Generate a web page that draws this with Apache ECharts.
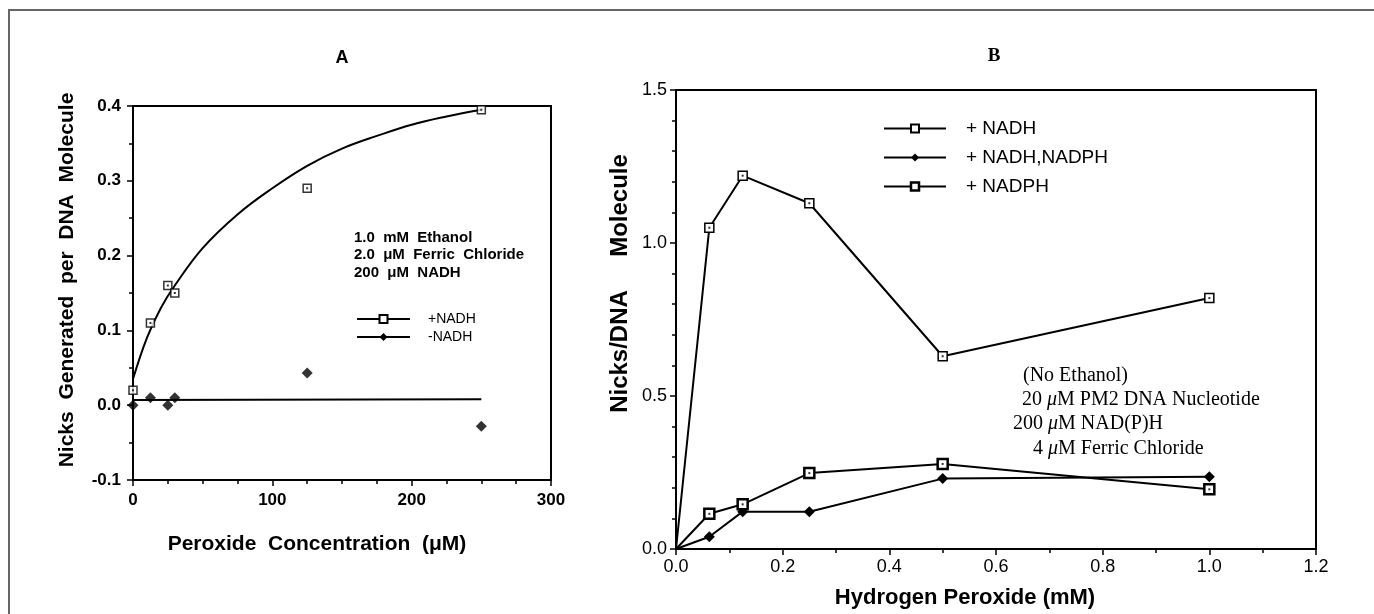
<!DOCTYPE html>
<html>
<head>
<meta charset="utf-8">
<script src="https://cdn.jsdelivr.net/npm/echarts@6/dist/echarts.min.js"></script>
<style>
html, body { margin: 0; padding: 0; background: #fff; }
#chart { width: 1374px; height: 614px; }
</style>
</head>
<body>
<div id="chart"></div>
<script>
// panel A - peroxide concentration (uM)
const aX = [0, 12.5, 25, 30, 125, 250];
const aPlusNADH = [0.02, 0.11, 0.16, 0.15, 0.29, 0.395];
const aMinusNADH = [0.0, 0.01, 0.0, 0.01, 0.043, -0.028];
// fitted curves as drawn in the figure
const aFitX = [0, 10, 20, 30, 50, 75, 100, 125, 150, 175, 200, 225, 250];
const aFitPlus = [0.035, 0.09, 0.13, 0.16, 0.21, 0.255, 0.29, 0.32, 0.343, 0.36, 0.375, 0.386, 0.395];
const aFitMinusX = [0, 250];
const aFitMinus = [0.007, 0.008];
const aXTicks = [0, 100, 200, 300];
const aYTicks = [-0.1, 0.0, 0.1, 0.2, 0.3, 0.4];

// panel B - hydrogen peroxide (mM)
const bX = [0, 0.0625, 0.125, 0.25, 0.5, 1.0];
const bNADH = [0, 1.05, 1.22, 1.13, 0.63, 0.82];
const bBoth = [0, 0.04, 0.122, 0.122, 0.23, 0.236];
const bNADPH = [0, 0.115, 0.146, 0.248, 0.278, 0.195];
const bXTicks = [0, 0.2, 0.4, 0.6, 0.8, 1.0, 1.2];
const bYTicks = [0, 0.5, 1.0, 1.5];

const SANS = 'Liberation Sans, Arial, sans-serif';
const NARROW = 'Liberation Sans Narrow, Liberation Sans, sans-serif';
const SERIF = 'Liberation Serif, Times New Roman, serif';

const chart = echarts.init(document.getElementById('chart'));

const pairs = (xs, ys) => xs.map((x, i) => [x, ys[i]]);
// no marker at the origin in panel B
const pairsB = ys => bX.map((x, i) => i === 0 ? { value: [x, ys[i]], symbol: 'none' } : [x, ys[i]]);
const dotsB = ys => bX.slice(1).map((x, i) => [x, ys[i + 1]]);

function axis(gridIndex, ticks, minorSplit, label, name) {
  return {
    type: 'value',
    gridIndex: gridIndex,
    min: ticks[0],
    max: ticks[ticks.length - 1],
    interval: ticks[1] - ticks[0],
    splitLine: { show: false },
    axisLine: { onZero: false, lineStyle: { color: '#000', width: 2 } },
    axisTick: { length: 6, lineStyle: { color: '#000', width: 1.5 } },
    minorTick: { show: true, splitNumber: minorSplit, length: 4, lineStyle: { color: '#000', width: 1.5 } },
    axisLabel: label,
    nameLocation: 'middle',
    ...name
  };
}

const openSquare = { color: '#fff', borderColor: '#000', borderWidth: 1.5 };
const boldSquare = { color: '#fff', borderColor: '#000', borderWidth: 2.5 };
const black = { color: '#000' };
const line = { color: '#000', width: 2 };

const option = {
  animation: false,
  backgroundColor: '#fff',
  grid: [
    { left: 133, top: 106, width: 418, height: 374, show: true, borderColor: '#000', borderWidth: 2 },
    { left: 676, top: 90, width: 640, height: 465, show: true, borderColor: '#000', borderWidth: 2 }
  ],
  xAxis: [
    axis(0, aXTicks, 4,
      { color: '#000', fontFamily: SANS, fontWeight: 'bold', fontSize: 17, margin: 12,
        formatter: v => String(Math.round(v)) },
      { name: 'Peroxide  Concentration  (μM)', nameGap: 54,
        nameTextStyle: { color: '#000', fontFamily: SANS, fontWeight: 'bold', fontSize: 21, padding: [0, 50, 0, 0] } }),
    axis(1, bXTicks, 2,
      { color: '#000', fontFamily: SANS, fontSize: 18, margin: 9,
        formatter: v => v.toFixed(1) },
      { name: 'Hydrogen Peroxide (mM)', nameGap: 38,
        nameTextStyle: { color: '#000', fontFamily: SANS, fontWeight: 'bold', fontSize: 22, padding: [0, 62, 0, 0] } })
  ],
  yAxis: [
    axis(0, aYTicks, 2,
      { color: '#000', fontFamily: SANS, fontWeight: 'bold', fontSize: 17, margin: 12,
        formatter: v => v.toFixed(1) },
      { name: 'Nicks  Generated  per  DNA  Molecule', nameGap: 55,
        nameTextStyle: { color: '#000', fontFamily: SANS, fontWeight: 'bold', fontSize: 21, padding: [0, 0, 0, 26] } }),
    axis(1, bYTicks, 5,
      { color: '#000', fontFamily: SANS, fontSize: 18, margin: 9,
        formatter: v => v.toFixed(1) },
      { name: 'Nicks/DNA     Molecule', nameGap: 44,
        nameTextStyle: { color: '#000', fontFamily: SANS, fontWeight: 'bold', fontSize: 24, padding: [0, 0, 0, 72] } })
  ],
  legend: [
    {
      data: ['+NADH', '-NADH'],
      orient: 'vertical', left: 356, top: 312, padding: 0,
      itemWidth: 53, itemHeight: 10, itemGap: 4,
      textStyle: { color: '#000', fontFamily: SANS, fontSize: 14, padding: [0, 0, 0, 13] }
    },
    {
      data: ['+ NADH', '+ NADH,NADPH', { name: '+ NADPH', itemStyle: { borderWidth: 2.5 } }],
      orient: 'vertical', left: 883, top: 119, padding: 0,
      itemWidth: 62, itemHeight: 10, itemGap: 10,
      textStyle: { color: '#000', fontFamily: NARROW, fontSize: 19, padding: [0, 0, 0, 15] }
    }
  ],
  series: [
    // panel A fitted curves
    { name: '+NADH', type: 'line', xAxisIndex: 0, yAxisIndex: 0, smooth: 0.4,
      data: pairs(aFitX, aFitPlus), showSymbol: false, symbol: 'rect', symbolSize: 8,
      itemStyle: openSquare, lineStyle: line, z: 2 },
    { name: '-NADH', type: 'line', xAxisIndex: 0, yAxisIndex: 0,
      data: pairs(aFitMinusX, aFitMinus), showSymbol: false, symbol: 'diamond', symbolSize: 10,
      itemStyle: black, lineStyle: line, z: 2 },
    // panel A measured points
    { name: '+NADH points', type: 'scatter', xAxisIndex: 0, yAxisIndex: 0,
      data: pairs(aX, aPlusNADH), symbol: 'rect', symbolSize: 8, itemStyle: openSquare, z: 3 },
    { name: '+NADH centre', type: 'scatter', xAxisIndex: 0, yAxisIndex: 0, silent: true,
      data: pairs(aX, aPlusNADH), symbol: 'rect', symbolSize: 2, itemStyle: black, z: 4 },
    { name: '-NADH points', type: 'scatter', xAxisIndex: 0, yAxisIndex: 0,
      data: pairs(aX, aMinusNADH), symbol: 'diamond', symbolSize: 11, itemStyle: black, z: 3 },
    // panel B
    { name: '+ NADH', type: 'line', xAxisIndex: 1, yAxisIndex: 1,
      data: pairsB(bNADH), symbol: 'rect', symbolSize: 9, showAllSymbol: true,
      itemStyle: openSquare, lineStyle: line, z: 2 },
    { name: '+ NADH,NADPH', type: 'line', xAxisIndex: 1, yAxisIndex: 1,
      data: pairsB(bBoth), symbol: 'diamond', symbolSize: 11, showAllSymbol: true,
      itemStyle: black, lineStyle: line, z: 2 },
    { name: '+ NADPH', type: 'line', xAxisIndex: 1, yAxisIndex: 1,
      data: pairsB(bNADPH), symbol: 'rect', symbolSize: 10, showAllSymbol: true,
      itemStyle: boldSquare, lineStyle: line, z: 2 },
    { name: 'B centres', type: 'scatter', xAxisIndex: 1, yAxisIndex: 1, silent: true,
      data: dotsB(bNADH).concat(dotsB(bNADPH)), symbol: 'rect', symbolSize: 2, itemStyle: black, z: 4 }
  ],
  graphic: [
    // outer frame of the figure
    { type: 'polyline', shape: { points: [[9, 614], [9, 10], [1374, 10]] },
      style: { stroke: '#666', lineWidth: 2, fill: null }, silent: true },
    { type: 'text', x: 342, y: 58,
      style: { text: 'A', font: 'bold 18px ' + SANS, fill: '#000', align: 'center', verticalAlign: 'middle' } },
    { type: 'text', x: 994, y: 56,
      style: { text: 'B', font: 'bold 19px ' + SERIF, fill: '#000', align: 'center', verticalAlign: 'middle' } },
    { type: 'text', x: 354, y: 238,
      style: { text: '1.0  mM  Ethanol', font: 'bold 15px ' + SANS, fill: '#000', verticalAlign: 'middle' } },
    { type: 'text', x: 354, y: 255,
      style: { text: '2.0  μM  Ferric  Chloride', font: 'bold 15px ' + SANS, fill: '#000', verticalAlign: 'middle' } },
    { type: 'text', x: 354, y: 273,
      style: { text: '200  μM  NADH', font: 'bold 15px ' + SANS, fill: '#000', verticalAlign: 'middle' } },
    { type: 'text', x: 1023, y: 376,
      style: { text: '(No Ethanol)', font: '20px ' + SERIF, fill: '#000', verticalAlign: 'middle' } },
    { type: 'text', x: 1022, y: 400,
      style: { text: '{n|20 }{i|μ}{n|M PM2 DNA Nucleotide}', verticalAlign: 'middle',
        rich: { n: { font: '20px ' + SERIF, fill: '#000' }, i: { font: 'italic 20px ' + SERIF, fill: '#000' } } } },
    { type: 'text', x: 1013, y: 424,
      style: { text: '{n|200 }{i|μ}{n|M NAD(P)H}', verticalAlign: 'middle',
        rich: { n: { font: '20px ' + SERIF, fill: '#000' }, i: { font: 'italic 20px ' + SERIF, fill: '#000' } } } },
    { type: 'text', x: 1033, y: 449,
      style: { text: '{n|4 }{i|μ}{n|M Ferric Chloride}', verticalAlign: 'middle',
        rich: { n: { font: '20px ' + SERIF, fill: '#000' }, i: { font: 'italic 20px ' + SERIF, fill: '#000' } } } }
  ]
};

chart.setOption(option);
window.addEventListener('resize', () => chart.resize());
</script>
</body>
</html>
